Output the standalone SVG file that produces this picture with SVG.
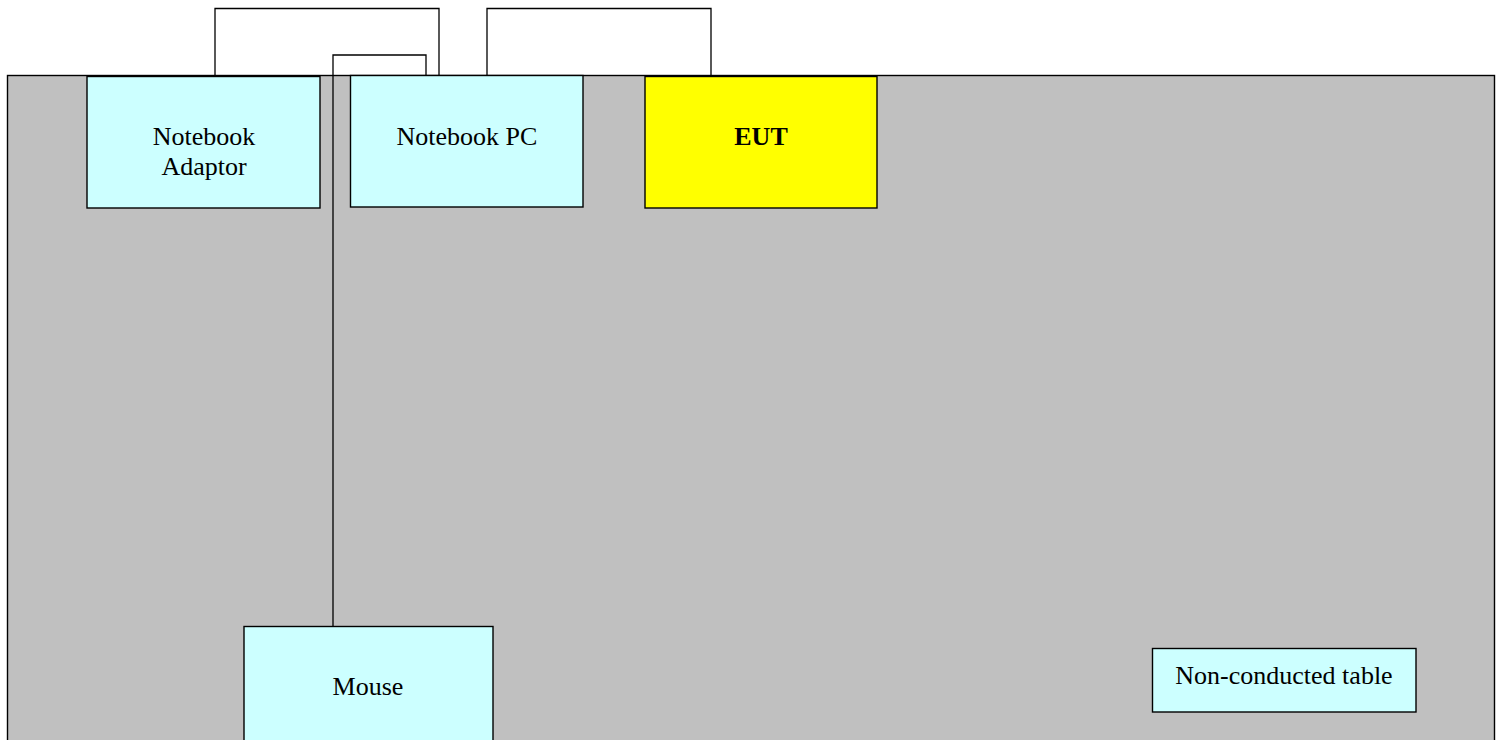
<svg xmlns="http://www.w3.org/2000/svg" width="1503" height="740" viewBox="0 0 1503 740">
<style>
.box{stroke:#000;stroke-width:1.4}
.dev{fill:#CCFFFF}
.eut{fill:#FFFF00}
.wire{fill:none;stroke:#000;stroke-width:1.3}
text{font-family:"Liberation Serif","Times New Roman",serif;font-size:26px;fill:#000;text-anchor:middle}
</style>
<rect id="table" x="7.5" y="75.5" width="1487" height="680" fill="#C0C0C0" stroke="#000" stroke-width="1.4"/>
<g id="connectors">
<polyline class="wire" points="215,75.5 215,8.5 439,8.5 439,75.5"/>
<polyline class="wire" points="333,626 333,55 426,55 426,75.5"/>
<polyline class="wire" points="487,75.5 487,8.5 711,8.5 711,75.5"/>
</g>
<g id="notebook-adaptor">
<rect class="box dev" x="87" y="76.5" width="233" height="131.5"/>
<text x="204" y="145">Notebook</text>
<text x="204" y="175">Adaptor</text>
</g>
<g id="notebook-pc">
<rect class="box dev" x="350.5" y="75.5" width="232.5" height="131.5"/>
<text x="467" y="145">Notebook PC</text>
</g>
<g id="eut">
<rect class="box eut" x="645" y="76.5" width="232" height="131.5"/>
<text x="761" y="145" font-weight="bold">EUT</text>
</g>
<g id="mouse">
<rect class="box dev" x="244" y="626.5" width="249" height="130"/>
<text x="368" y="695">Mouse</text>
</g>
<g id="non-conducted-table">
<rect class="box dev" x="1152.5" y="648.5" width="263.5" height="63.5"/>
<text x="1284" y="684">Non-conducted table</text>
</g>
</svg>
